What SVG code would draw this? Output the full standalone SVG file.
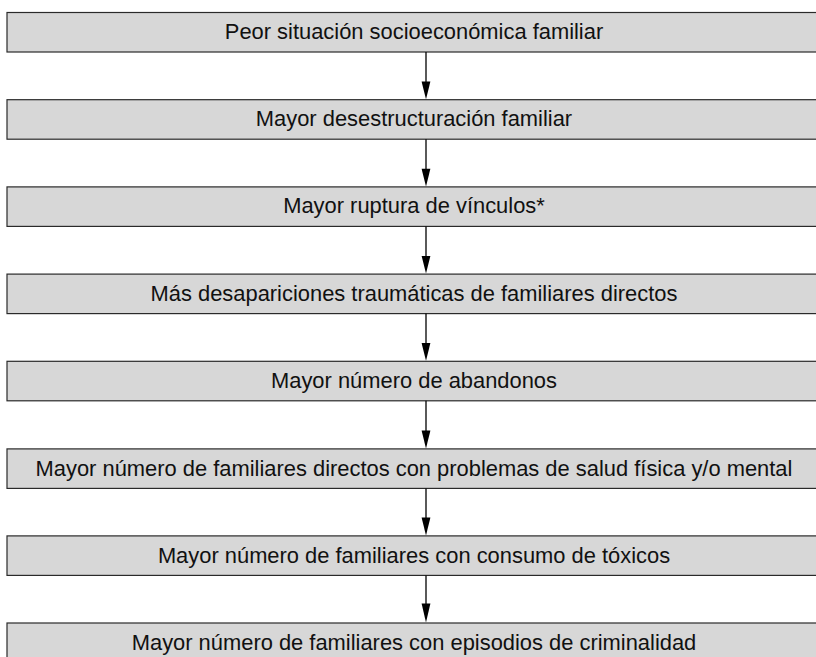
<svg xmlns="http://www.w3.org/2000/svg" width="816" height="657" viewBox="0 0 816 657">
<style>
.box{fill:#d7d7d7;stroke:#2a2a2a;stroke-width:1.2}
.lbl{font-family:"Liberation Sans",Arial,Helvetica,sans-serif;font-size:21.9px;fill:#111;text-anchor:middle}
.conn{stroke:#000;stroke-width:1.3;fill:none}
.head{fill:#000}
</style>
<rect width="816" height="657" fill="#fff"/>
<g id="n1"><rect class="box" x="7" y="12.5" width="815" height="39.5"/><text class="lbl" x="414" y="39">Peor situación socioeconómica familiar</text></g>
<g id="n2"><rect class="box" x="7" y="99.7" width="815" height="39.5"/><text class="lbl" x="414" y="126.2">Mayor desestructuración familiar</text></g>
<g id="n3"><rect class="box" x="7" y="186.9" width="815" height="39.5"/><text class="lbl" x="414" y="213.4">Mayor ruptura de vínculos*</text></g>
<g id="n4"><rect class="box" x="7" y="274.1" width="815" height="39.5"/><text class="lbl" x="414" y="300.6">Más desapariciones traumáticas de familiares directos</text></g>
<g id="n5"><rect class="box" x="7" y="361.3" width="815" height="39.5"/><text class="lbl" x="414" y="387.8">Mayor número de abandonos</text></g>
<g id="n6"><rect class="box" x="7" y="448.9" width="815" height="39.5"/><text class="lbl" x="414" y="475.6">Mayor número de familiares directos con problemas de salud física y/o mental</text></g>
<g id="n7"><rect class="box" x="7" y="535.9" width="815" height="39.5"/><text class="lbl" x="414" y="562.8">Mayor número de familiares con consumo de tóxicos</text></g>
<g id="n8"><rect class="box" x="7" y="623" width="815" height="39.5"/><text class="lbl" x="414" y="650">Mayor número de familiares con episodios de criminalidad</text></g>
<g id="connectors">
<line class="conn" x1="426" y1="52" x2="426" y2="84"/><polygon class="head" points="421.6,81.5 430.4,81.5 426,99.2"/>
<line class="conn" x1="426" y1="139.2" x2="426" y2="171"/><polygon class="head" points="421.6,168.7 430.4,168.7 426,186.4"/>
<line class="conn" x1="426" y1="226.4" x2="426" y2="258"/><polygon class="head" points="421.6,255.9 430.4,255.9 426,273.6"/>
<line class="conn" x1="426" y1="313.6" x2="426" y2="345"/><polygon class="head" points="421.6,343.1 430.4,343.1 426,360.8"/>
<line class="conn" x1="426" y1="400.8" x2="426" y2="433"/><polygon class="head" points="421.6,430.5 430.4,430.5 426,448.4"/>
<line class="conn" x1="426" y1="488.4" x2="426" y2="520"/><polygon class="head" points="421.6,517.6 430.4,517.6 426,535.4"/>
<line class="conn" x1="426" y1="575.4" x2="426" y2="607"/><polygon class="head" points="421.6,603.6 430.4,603.6 426,622.4"/>
</g>
</svg>
